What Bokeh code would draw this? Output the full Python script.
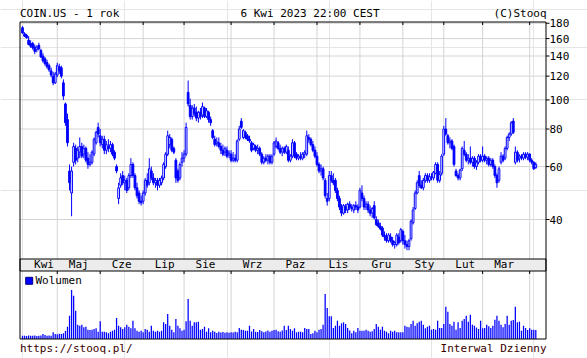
import numpy as np
from bokeh.plotting import figure
from bokeh.models import Range1d, LinearScale
from bokeh.embed import file_html
from bokeh.resources import INLINE
from bokeh.core.properties import value

# ---------------- data ----------------
month_names = ["Kwi", "Maj", "Cze", "Lip", "Sie", "Wrz", "Paz", "Lis", "Gru", "Sty", "Lut", "Mar", "Kwi"]
month_days = [17, 21, 21, 20, 23, 21, 21, 21, 21, 20, 19, 23, 4]
y_ticks = [40, 60, 80, 100, 120, 140, 160, 180]
y_tick_labels = ["40", "60", "80", "100", "120", "140", "160", "180"]

open_ = [174, 166, 164, 158, 154, 154, 150, 147, 152, 146, 140, 137, 133, 130, 125, 120, 114,
         121, 129, 128, 114, 97, 86, 58, 49, 62, 69, 64, 67, 70, 66, 69, 64, 61, 62, 66, 72, 81,
         76, 71, 74, 68, 70, 69, 71, 67, 60, 47, 52, 56, 53, 54, 51, 56, 61, 56, 51, 49, 46,
         46, 49, 54, 53, 58, 55, 53, 54, 52, 53, 55, 60, 66, 71, 74, 69, 63, 58, 55, 62,
         64, 66, 106, 96, 88, 94, 91, 87, 91, 89, 94, 88, 91, 86, 79, 74, 71.5, 72, 70, 68, 67, 68, 65.5,
         66, 63, 64, 63, 74, 85, 75, 78, 76, 74, 72, 69, 70, 68, 69, 66, 62, 64, 63, 65, 62,
         66, 70, 72, 69, 67, 69, 67, 68, 63, 65, 72, 66, 64, 65, 64, 66, 66, 75, 74, 71, 68,
         65, 61, 58, 59, 54, 47, 47, 56, 54, 54, 50, 47, 44, 42, 44, 43, 45, 44, 43, 44.5, 44,
         44, 49, 47, 44, 45, 43, 42, 44.5, 40, 39, 38, 37.5, 35.5, 35, 34, 35, 34, 33, 33, 35, 34,
         36.5, 34, 33, 32.5, 34.5, 39, 43.5, 49, 56, 52, 51, 54, 56, 54, 55.5, 55, 57, 61, 54, 57,
         66, 80, 76, 72, 73, 70, 58, 56, 55, 59, 68, 66, 63, 64, 62, 64, 60, 62, 65,
         63, 65, 63, 64, 61, 63, 60, 56, 54, 62, 65, 64, 69, 75, 77, 85, 62, 67, 64, 65, 64, 66, 64.5,
         66, 63, 62, 59.5]
high = [176, 168, 166, 163, 158, 156, 153, 152, 155, 148, 143, 139, 136, 132, 128, 124, 124,
        133, 132, 130, 117, 98, 90, 61, 60, 72, 71, 70, 75, 72, 71, 70, 67, 66, 68, 75, 79, 84,
        80, 76, 76, 73, 74, 73, 72, 68, 61, 53, 57, 58, 56, 55, 57, 64, 62, 57, 53, 50, 48,
        50, 55, 57, 64, 60, 57, 55, 55, 55, 56, 62, 67, 79, 77, 75, 70, 64, 59, 62, 67,
        68, 84, 116, 101, 96, 97, 95, 92, 94, 98, 95, 94, 92, 88, 80, 76, 75, 75, 72, 71, 70, 70, 68,
        68, 67, 66, 74, 82, 87, 80, 79, 77, 76, 73, 72, 71, 71, 70, 67, 65, 66, 66, 66, 66,
        73, 75, 73, 71, 70, 70, 71, 70, 66, 74, 73, 67, 66, 67, 67, 68, 79, 77, 75, 73, 70,
        67, 62, 61, 60, 55, 49, 58, 58, 57, 55, 51, 48, 45, 45, 45, 45.5, 46, 45, 45, 46, 45,
        51, 52, 48, 46, 46, 44.5, 44, 46, 41, 40, 39, 38, 36.5, 36, 36, 36, 35, 34, 36, 36, 37.5,
        37, 35.5, 34, 34.5, 40, 44, 50, 54, 58, 54, 55, 57, 57, 57, 57, 58, 62, 62, 58, 66,
        82, 87, 77, 75, 74, 71, 59, 57, 59, 70, 73, 67, 66, 70, 65, 65, 63, 66, 66,
        70, 66, 65, 65, 64, 64, 61, 57, 60, 67, 66, 70, 76, 78, 85, 87, 70, 68, 66, 66, 67, 67, 67,
        66.5, 64, 62.5, 62]
low = [166, 162, 160, 152, 149, 147, 142, 144, 146, 138, 133, 130, 127, 124, 119, 112, 113,
       119, 122, 118, 100, 82, 70, 50, 41, 60, 61, 62, 64, 64, 64, 62, 59, 60, 61, 65, 71, 75,
       70, 69, 66, 66, 67, 67, 65, 63, 57, 45, 51, 52, 50, 49, 50, 55, 55, 50, 47, 45, 44.5,
       45, 48, 51, 52, 54, 52, 51, 50, 51, 52, 54, 59, 65, 69, 67, 66, 53, 53, 54, 60,
       62, 65, 95, 86, 86, 88, 85, 84, 86, 87, 87, 87, 84, 82, 74, 70, 70, 69, 66, 65, 65, 64, 64,
       62, 62, 62, 62, 73, 80, 74, 74, 73, 72, 67, 68, 67, 66, 65, 61, 61, 62, 61, 61, 61,
       65, 69, 68, 66, 65, 66, 66, 62, 62, 64, 64, 63, 63, 63, 63, 64, 65, 72, 70, 67, 64,
       60, 57, 56, 54, 47, 44.5, 46, 53, 52, 49, 46, 43, 41, 41.5, 42, 42, 43, 42.5, 42, 43, 42,
       43.5, 46, 43, 43, 42, 41, 40.5, 40, 38, 37.5, 36.8, 35, 34, 33.5, 33.5, 33.5, 32.5, 32, 32.5, 33, 33.5,
       33, 32, 31.6, 31.6, 34, 38.5, 43, 48.5, 51, 50.5, 50, 53, 53, 53, 54, 54, 56.5, 53, 53, 56,
       65, 76, 71, 69, 68, 60, 55.5, 54, 54, 58, 65, 62, 61, 61, 60, 59, 58.5, 61, 62,
       62, 62, 61, 60, 60, 59, 55, 51, 53, 61, 62, 63, 68, 73, 76, 77, 61, 62, 62, 63, 63, 63.5, 63,
       62, 61, 58.5, 59]
close = [167, 163, 161, 153, 151, 149, 145, 150, 148, 139, 135, 132, 129, 126, 121, 114, 122,
         130, 125, 120, 103, 84, 72, 53, 58, 70, 63, 68, 70, 65, 69, 63, 61, 62, 67, 74, 78, 77,
         72, 74, 68, 71, 69, 71, 66, 64, 58, 51, 55, 53, 54, 50, 56, 61, 56, 51, 48, 46, 45.5,
         49, 54, 52, 59, 55, 53, 54, 52, 54, 55, 61, 66, 76, 75, 68, 67, 55, 54, 61, 64,
         66, 81, 97, 88, 94, 90, 87, 91, 88, 95, 88, 92, 86, 84, 75, 71, 72.5, 70, 68, 66, 69, 65, 66.5,
         63, 64, 63, 73, 80, 81, 79, 75, 74, 73, 68, 71, 68, 69, 66, 62, 64, 63, 65, 62, 65,
         72, 73, 69, 67, 69, 67, 70, 63, 65, 72, 65, 64, 65, 64, 66, 67, 76, 74, 71, 68, 65,
         61, 58, 59, 55, 48, 46, 56, 54, 53, 50, 47, 44, 42, 44.5, 43, 45, 44, 43.5, 44.5, 44, 43,
         50, 47, 44, 45, 43, 42, 43.5, 40.5, 38.5, 38, 37.2, 35.5, 35, 34, 35.5, 34, 33, 33.5, 35.5, 33.5, 37,
         34, 33, 32.5, 34, 39.5, 43, 49, 53, 52, 51, 54, 56, 54, 55.5, 55, 57.5, 61, 54, 56.5, 65,
         80, 77, 72, 73, 69, 61, 56, 55, 58.5, 69, 66, 63, 64, 62, 64, 60, 62, 65, 63,
         65, 63, 64, 61, 63, 60, 56, 53, 59, 65, 63, 69, 75, 77, 84, 78, 67, 63, 65, 64, 66, 64.5, 66,
         63, 62, 59, 61]
volume = [4.5, 4.6, 4.2, 4.8, 4.4, 4.6, 4.9, 4.3, 4.7, 5.0,
          7.0, 5.6, 4.6, 4.8, 4.5, 9.4, 7.0, 6.8, 7.2, 7.0,
          8.0, 11.2, 17.2, 32.6, 68.6, 60.6, 39.6, 20.0, 18.6, 20.0,
          16.4, 17.2, 13.0, 12.6, 13.0, 14.0, 15.0, 10.2, 24.8, 10.2,
          10.2, 9.4, 8.0, 10.2, 11.6, 13.0, 29.4, 18.6, 16.4, 14.0,
          16.4, 20.0, 17.2, 15.0, 25.6, 15.0, 11.6, 10.2, 11.6, 9.4,
          14.0, 13.0, 10.2, 18.6, 11.6, 10.2, 11.6, 10.2, 11.6, 23.4,
          21.0, 35.0, 18.6, 13.0, 9.4, 28.0, 18.6, 15.0, 11.6, 13.0,
          24.8, 56.0, 25.6, 18.6, 23.4, 23.4, 24.2, 13.0, 14.0, 17.2,
          10.2, 15.0, 9.4, 11.6, 10.2, 8.4, 10.2, 9.0, 9.8, 8.6,
          9.4, 8.8, 9.6, 9.0, 10.0, 9.4, 15.4, 13.0, 12.6, 11.6,
          11.6, 18.6, 10.5, 14.0, 10.0, 9.8, 12.6, 11.0, 9.4, 10.5,
          12.0, 10.2, 11.6, 12.6, 13.0, 11.0, 10.2, 12.0, 18.6, 12.6,
          18.6, 14.0, 11.6, 15.0, 9.4, 10.2, 10.2, 9.4, 15.4, 14.0,
          14.0, 7.0, 8.0, 11.6, 9.4, 13.0, 14.0, 20.0, 63.0, 43.4,
          31.8, 31.8, 15.4, 18.6, 25.6, 18.6, 22.0, 23.4, 21.0, 15.4,
          12.0, 8.0, 11.6, 9.4, 15.4, 11.6, 11.6, 11.6, 13.0, 11.6,
          10.2, 10.8, 14.0, 21.0, 17.2, 13.0, 17.2, 11.6, 10.2, 8.0,
          11.6, 10.2, 11.6, 9.4, 9.4, 9.4, 9.4, 18.6, 17.2, 16.4,
          21.0, 25.6, 18.6, 22.0, 24.3, 25.6, 20.0, 15.0, 17.2, 18.6,
          13.0, 14.0, 13.0, 25.6, 15.4, 15.4, 21.0, 45.3, 38.3, 21.0,
          18.6, 24.3, 13.0, 23.4, 15.4, 25.6, 28.0, 32.7, 24.3, 34.0,
          20.0, 18.6, 16.0, 14.0, 25.6, 15.0, 15.4, 20.0, 17.7, 15.4,
          18.6, 27.0, 32.7, 25.6, 20.0, 16.4, 21.0, 32.7, 20.0, 25.6,
          26.6, 45.3, 23.4, 24.3, 11.6, 18.6, 15.4, 12.6, 15.0, 13.0,
          13.0, 12.6]

# ---------------- layout constants (pixels) ----------------
W, H = 587, 358
FL, FR, FT, FB = 19.5, 545.5, 21.5, 338.5   # chart frame (pixel centres of the border lines)
BT, BB = 258.5, 270.5                        # month band top / bottom
X0, DX = 22.0, 2.045                         # pixel x of first session, pixels per session
Y40, PPL = 219.0, 130.5                      # pixel y of price 40, pixels per ln-unit
VPX = 1.4                                    # volume units per pixel
FONT = "DejaVu Sans Mono"
BLUE = "#0000ff"
GRID = "#d4d4d4"


def xi(xp):
    return (xp - X0) / DX


def price_at(yp):
    return 40.0 * np.exp((Y40 - yp) / PPL)


def vol_at(yp):
    return (FB - yp) * VPX


n = len(close)
idx = np.arange(n)
o = np.array(open_, float)
hi = np.array(high, float)
lo = np.array(low, float)
c = np.array(close, float)
up = c >= o
dn = ~up
month_start = np.concatenate([[0], np.cumsum(month_days)[:-1]])
ms = month_start[1:]
k = len(ms)

# one canvas-sized frame; everything placed through the x / price / volume scales
p = figure(width=W, height=H, x_range=Range1d(xi(0), xi(W)),
           y_range=Range1d(price_at(H), price_at(0)), y_axis_type="log",
           x_axis_location=None, y_axis_location=None, title=None,
           min_border=0, min_border_left=0, min_border_right=0,
           min_border_top=0, min_border_bottom=0,
           toolbar_location=None, output_backend="svg")
p.extra_y_ranges = {"vol": Range1d(vol_at(H), vol_at(0))}
p.extra_y_scales = {"vol": LinearScale()}
p.outline_line_color = None
p.background_fill_color = "white"
p.border_fill_color = "white"

# grid
p.segment(x0=[xi(FL)] * len(y_ticks), x1=[xi(FR)] * len(y_ticks), y0=y_ticks, y1=y_ticks,
          line_color=GRID, line_width=1)
p.segment(x0=ms, x1=ms, y0=[vol_at(FT)] * k, y1=[vol_at(FB)] * k, y_range_name="vol",
          line_color=GRID, line_width=1)

# candles
p.segment(x0=idx, y0=lo, x1=idx, y1=hi, line_color=BLUE, line_width=1)
p.vbar(x=idx[dn], width=0.85, top=o[dn], bottom=c[dn], fill_color=BLUE,
       line_color=BLUE, line_width=1)
p.vbar(x=idx[up], width=0.85, top=c[up], bottom=o[up], fill_color="white",
       line_color=BLUE, line_width=1)

# volume
p.vbar(x=idx, width=0.62, top=volume, bottom=0, y_range_name="vol",
       fill_color=BLUE, line_color=None)

# month band
p.quad(left=[xi(FL)], right=[xi(FR)], bottom=[vol_at(BB)], top=[vol_at(BT)],
       y_range_name="vol", fill_color="#ececec", line_color="black", line_width=1)
label_x = [month_start[j] + 10.5 for j in range(len(month_names) - 1)]
p.text(x=label_x, y=[vol_at(264)] * len(label_x), text=month_names[:-1],
       y_range_name="vol", text_font=value(FONT), text_font_size="11px",
       text_align="center", text_baseline="middle", text_color="black")

# frame outline
p.quad(left=[xi(FL)], right=[xi(FR)], bottom=[vol_at(FB)], top=[vol_at(FT)],
       y_range_name="vol", fill_color=None, line_color="black", line_width=1)

# small month ticks at top border and under the band
p.segment(x0=ms, x1=ms, y0=[vol_at(FT)] * k, y1=[vol_at(FT + 3)] * k, y_range_name="vol",
          line_color="black", line_width=1)
p.segment(x0=ms, x1=ms, y0=[vol_at(BB)] * k, y1=[vol_at(BB + 3)] * k, y_range_name="vol",
          line_color="black", line_width=1)

# right price axis: ticks + labels
p.segment(x0=[xi(FR)] * len(y_ticks), x1=[xi(FR + 3.5)] * len(y_ticks), y0=y_ticks, y1=y_ticks,
          line_color="black", line_width=1)
p.text(x=[xi(549)] * len(y_ticks), y=y_ticks, text=y_tick_labels, text_font=value(FONT),
       text_font_size="11px", text_align="left", text_baseline="middle", text_color="black")

# volume legend
p.scatter(x=[xi(28.7)], y=[vol_at(280.3)], marker="square", size=7,
          fill_color=BLUE, line_color="#000080", y_range_name="vol")
p.text(x=[xi(35)], y=[vol_at(280.3)], text=["Wolumen"], y_range_name="vol",
       text_font=value(FONT), text_font_size="11px", text_baseline="middle",
       text_color="black")

# header texts
hy = vol_at(13)
p.text(x=[xi(19.5), xi(240)], y=[hy, hy], text=["COIN.US - 1 rok", "6 Kwi 2023 22:00 CEST"],
       y_range_name="vol", text_font=value(FONT), text_font_size="11px",
       text_baseline="middle", text_align="left", text_color="black")
p.text(x=[xi(546)], y=[hy], text=["(C)Stooq"], y_range_name="vol", text_font=value(FONT),
       text_font_size="11px", text_baseline="middle", text_align="right", text_color="black")

# footer texts
fy = vol_at(347.5)
p.text(x=[xi(19.5)], y=[fy], text=["https://stooq.pl/"], y_range_name="vol",
       text_font=value(FONT), text_font_size="11px", text_baseline="middle",
       text_align="left", text_color="#3a0000")
p.text(x=[xi(546)], y=[fy], text=["Interwal Dzienny"], y_range_name="vol",
       text_font=value(FONT), text_font_size="11px", text_baseline="middle",
       text_align="right", text_color="#3a0000")

open("out.html", "w").write(file_html(p, INLINE))
